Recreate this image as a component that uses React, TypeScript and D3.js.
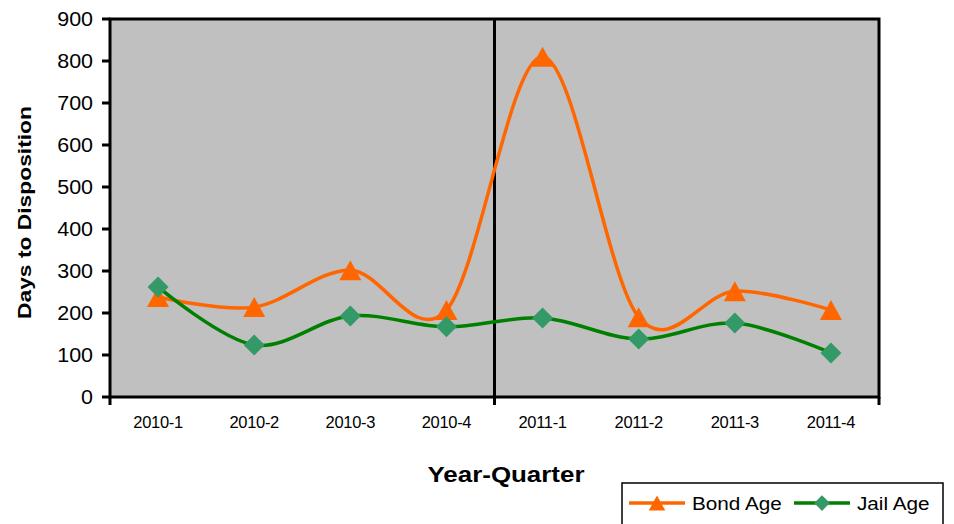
import React from "react";
import * as d3 from "d3";

const categories = ["2010-1", "2010-2", "2010-3", "2010-4", "2011-1", "2011-2", "2011-3", "2011-4"];
const bondAge = [238, 214, 302, 207, 810, 190, 252, 207];
const jailAge = [262, 124, 193, 167, 188, 138, 176, 105];
const yTicks = [0, 100, 200, 300, 400, 500, 600, 700, 800, 900];

const W = 954, H = 524;
const L = 110, R = 879, T = 19, B = 397;
const FONT = "'Liberation Sans', Arial, sans-serif";
const ORANGE = "#FF6600";
const GREEN_LINE = "#008000";
const GREEN_MARK = "#339966";

export default function App() {
  const x = d3.scaleBand<string>().domain(categories).range([L, R]);
  const y = d3.scaleLinear().domain([0, 900]).range([B, T]);
  const cx = (c: string) => (x(c) as number) + x.bandwidth() / 2;

  const line = d3
    .line<number>()
    .x((_, i) => cx(categories[i]))
    .y((d) => y(d))
    .curve(d3.curveCardinal.tension(0));

  const tri = (px: number, py: number, s = 1) =>
    `M${px},${py - 10 * s} L${px + 11 * s},${py + 10 * s} L${px - 11 * s},${py + 10 * s} Z`;
  const dia = (px: number, py: number, s = 1) =>
    `M${px},${py - 10.5 * s} L${px + 10.5 * s},${py} L${px},${py + 10.5 * s} L${px - 10.5 * s},${py} Z`;

  const boundaryX = [L, (x(categories[4]) as number), R];

  return (
    <svg width={W} height={H} style={{ position: "absolute", left: 0, top: 0, background: "#fff" }}>
      <rect x={L} y={T} width={R - L} height={B - T} fill="#C0C0C0" />
      {/* y ticks */}
      {yTicks.map((t) => (
        <g key={t}>
          <line x1={L - 8} x2={L} y1={y(t)} y2={y(t)} stroke="#000" strokeWidth={3} />
          <text
            transform={`translate(${L - 17},${y(t)}) scale(1.1,1)`}
            dy="0.36em"
            textAnchor="end"
            fontFamily={FONT}
            fontSize={19.5}
            fill="#000"
          >
            {t}
          </text>
        </g>
      ))}
      {/* x boundary ticks / divider */}
      {boundaryX.map((bx, i) => (
        <line key={i} x1={bx} x2={bx} y1={i === 1 ? T : B} y2={B + 8} stroke="#000" strokeWidth={3} />
      ))}
      {categories.map((c) => (
        <text key={c} x={cx(c)} y={428} textAnchor="middle" fontFamily={FONT} fontSize={16.5} letterSpacing={-0.3} fill="#000">
          {c}
        </text>
      ))}
      <rect x={L} y={T} width={R - L} height={B - T} fill="none" stroke="#000" strokeWidth={3} />

      {/* series */}
      <path d={line(bondAge) as string} fill="none" stroke={ORANGE} strokeWidth={3.5} />
      <path d={line(jailAge) as string} fill="none" stroke={GREEN_LINE} strokeWidth={3.5} />
      {bondAge.map((v, i) => (
        <path key={"b" + i} d={tri(cx(categories[i]), y(v))} fill={ORANGE} />
      ))}
      {jailAge.map((v, i) => (
        <path key={"j" + i} d={dia(cx(categories[i]), y(v))} fill={GREEN_MARK} />
      ))}

      {/* axis titles */}
      <text
        transform={`translate(31,212.5) rotate(-90)`}
        textAnchor="middle"
        fontFamily={FONT}
        fontSize={18.5}
        fontWeight="bold"
        textLength={213}
        lengthAdjust="spacingAndGlyphs"
        fill="#000"
      >
        Days to Disposition
      </text>
      <text
        x={506}
        y={482}
        textAnchor="middle"
        fontFamily={FONT}
        fontSize={22}
        fontWeight="bold"
        textLength={157}
        lengthAdjust="spacingAndGlyphs"
        fill="#000"
      >
        Year-Quarter
      </text>

      {/* legend */}
      <rect x={622} y={483} width={321} height={50} fill="#fff" stroke="#000" strokeWidth={1.5} />
      <line x1={629} x2={685} y1={503} y2={503} stroke={ORANGE} strokeWidth={3.5} />
      <path d={tri(657, 503, 0.75)} fill={ORANGE} />
      <text transform="translate(692,509.5) scale(1.12,1)" fontFamily={FONT} fontSize={18.5} fill="#000">
        Bond Age
      </text>
      <line x1={794} x2={850} y1={503} y2={503} stroke={GREEN_LINE} strokeWidth={3.5} />
      <path d={dia(822, 503, 0.75)} fill={GREEN_MARK} />
      <text transform="translate(857,509.5) scale(1.12,1)" fontFamily={FONT} fontSize={18.5} fill="#000">
        Jail Age
      </text>
    </svg>
  );
}
